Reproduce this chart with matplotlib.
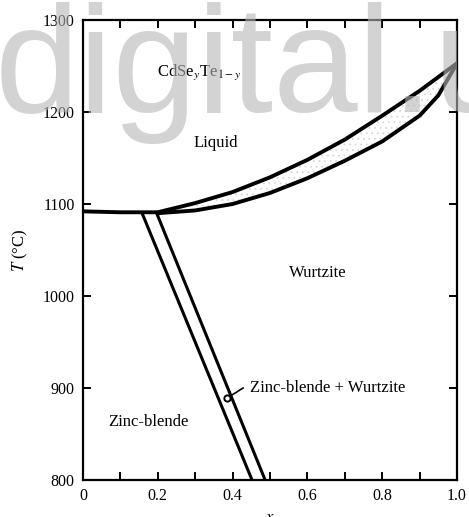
import matplotlib
matplotlib.use("Agg")
import matplotlib.pyplot as plt
import numpy as np

# liquidus (upper) and solidus (lower) of CdSe_yTe_1-y
liq_x = [0.0, 0.1, 0.2, 0.3, 0.4, 0.5, 0.6, 0.7, 0.8, 0.9, 1.0]
liq_T = [1092, 1091, 1091, 1101, 1113, 1129, 1148, 1170, 1196, 1223, 1253]
sol_x = [0.2, 0.3, 0.4, 0.5, 0.6, 0.7, 0.8, 0.9, 0.95, 1.0]
sol_T = [1090, 1093, 1100, 1112, 1128, 1147, 1168, 1196, 1218, 1253]

# zinc-blende / wurtzite two-phase boundaries
zb_x = [0.160, 0.452]
zb_T = [1088, 800]
wz_x = [0.198, 0.487]
wz_T = [1089, 800]

# pointer for the two-phase label
ptr_x = [0.428, 0.385]
ptr_T = [900, 889]

labels = [
    ("CdSe$_y$Te$_{1-y}$", 0.198, 1243, "left"),
    ("Liquid", 0.356, 1166, "center"),
    ("Wurtzite", 0.628, 1025, "center"),
    ("Zinc-blende + Wurtzite", 0.447, 900, "left"),
    ("Zinc-blende", 0.176, 863, "center"),
]

plt.rcParams['font.family'] = ['Liberation Serif', 'DejaVu Serif']
plt.rcParams['mathtext.fontset'] = 'stix'
plt.rcParams['hatch.linewidth'] = 0.5

fig = plt.figure(figsize=(4.69, 5.17), dpi=100)
ax = fig.add_axes([83 / 469, 37 / 517, 374 / 469, 460 / 517])

# fine stipple in the liquid + solid band
band_x = liq_x[2:] + sol_x[::-1]
band_T = liq_T[2:] + sol_T[::-1]
ax.fill(band_x, band_T, facecolor='none', edgecolor='#d4d4d4', hatch='...', linewidth=0)

ax.plot(liq_x, liq_T, color='black', linewidth=2.8, solid_capstyle='round')
ax.plot(sol_x, sol_T, color='black', linewidth=2.8, solid_capstyle='round')
ax.plot(zb_x, zb_T, color='black', linewidth=2.2)
ax.plot(wz_x, wz_T, color='black', linewidth=2.2)
ax.plot(ptr_x, ptr_T, color='black', linewidth=1.2)
ax.plot(ptr_x[-1:], ptr_T[-1:], marker='o', markersize=4.5, markerfacecolor='white',
        markeredgecolor='black', markeredgewidth=1.4)

for txt, x, T, ha in labels:
    ax.text(x, T, txt, fontsize=12, ha=ha, va='center', color='black')

ax.set_xlim(0, 1.0)
ax.set_ylim(800, 1300)
ax.set_xticks([0, 0.2, 0.4, 0.6, 0.8, 1.0])
ax.set_xticklabels(['0', '0.2', '0.4', '0.6', '0.8', '1.0'])
ax.set_xticks(np.arange(0.1, 1.0, 0.2), minor=True)
ax.set_yticks([800, 900, 1000, 1100, 1200, 1300])
ax.tick_params(which='both', direction='in', top=True, right=True, width=1.4,
               labelsize=11.5, pad=6)
ax.tick_params(which='both', length=6)
for s in ax.spines.values():
    s.set_linewidth(1.6)

ax.set_xlabel('$x$', fontsize=12, labelpad=4)
ax.set_ylabel('$T$ (°C)', fontsize=12, labelpad=9)

# site watermark across the top
fig.text(-5 / 469, 1 - 112 / 517, 'digital.u', fontsize=109.5, family='Liberation Sans',
         color='#b6b6b6', alpha=0.6, ha='left', va='baseline', zorder=10)

fig.savefig('out.png', dpi=100)
